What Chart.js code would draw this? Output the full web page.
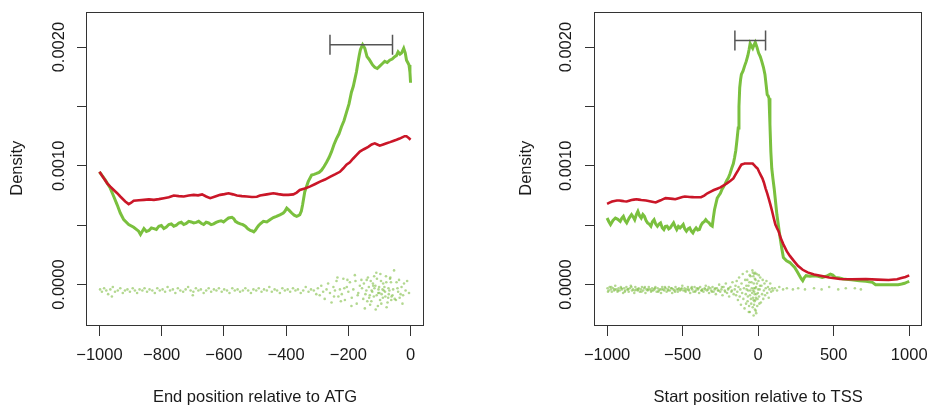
<!DOCTYPE html>
<html><head><meta charset="utf-8">
<script src="https://cdn.jsdelivr.net/npm/chart.js@4.4.1/dist/chart.umd.min.js"></script>
<style>
html,body{margin:0;padding:0;background:#fff;}
#wrap{position:relative;width:938px;height:408px;overflow:hidden;}
canvas{position:absolute;top:0;}
</style></head><body>
<div id="wrap"><canvas id="c1" width="469" height="408" style="left:0"></canvas><canvas id="c2" width="469" height="408" style="left:469px"></canvas></div>
<script>
// ---- tick values / labels ----
const yTickValues = [0, 0.0005, 0.001, 0.0015, 0.002];
const yTickLabels = ['0.0000', '', '0.0010', '', '0.0020'];
const atgTickValues = [-1000, -800, -600, -400, -200, 0];
const atgTickLabels = ['\u22121000', '\u2212800', '\u2212600', '\u2212400', '\u2212200', '0'];
const tssTickValues = [-1000, -500, 0, 500, 1000];
const tssTickLabels = ['\u22121000', '\u2212500', '0', '500', '1000'];

// ---- left panel: end position relative to ATG ----
const atgGreen = [[-1000,0.00095],[-981,0.00088],[-965,0.000811],[-954,0.000742],[-943,0.000672],[-933,0.000603],[-922,0.000547],[-906,0.000506],[-890,0.000483],[-874,0.00045],[-868,0.000422],[-857,0.000472],[-849,0.000447],[-841,0.000456],[-833,0.000478],[-825,0.000472],[-817,0.000465],[-809,0.000492],[-801,0.000498],[-793,0.000472],[-785,0.000485],[-777,0.000506],[-769,0.000512],[-761,0.000492],[-753,0.0005],[-745,0.000519],[-737,0.000525],[-729,0.000506],[-721,0.000515],[-713,0.000533],[-705,0.000528],[-697,0.000519],[-689,0.000524],[-681,0.000533],[-673,0.000517],[-665,0.000506],[-657,0.000525],[-649,0.000519],[-641,0.000505],[-633,0.000512],[-625,0.000524],[-617,0.000533],[-609,0.000538],[-601,0.000528],[-593,0.000545],[-585,0.000561],[-574,0.000567],[-568,0.000555],[-563,0.000533],[-555,0.00052],[-547,0.000512],[-539,0.000505],[-531,0.000492],[-523,0.00047],[-515,0.000456],[-509,0.000452],[-504,0.000444],[-499,0.000458],[-494,0.000478],[-489,0.000495],[-483,0.000512],[-473,0.000533],[-462,0.000528],[-452,0.000547],[-441,0.000565],[-431,0.000575],[-420,0.000588],[-409,0.000603],[-404,0.000618],[-398,0.000644],[-390,0.000625],[-382,0.000603],[-374,0.000585],[-366,0.000575],[-361,0.00058],[-356,0.000589],[-351,0.00062],[-347,0.000672],[-340,0.000783],[-329,0.000867],[-318,0.000922],[-310,0.000928],[-302,0.000936],[-294,0.000945],[-286,0.000964],[-278,0.000995],[-270,0.00103],[-262,0.00107],[-254,0.00112],[-246,0.00118],[-238,0.00123],[-230,0.00127],[-222,0.00133],[-214,0.00138],[-206,0.00145],[-198,0.00152],[-190,0.00162],[-184,0.00167],[-179,0.00173],[-174,0.00179],[-169,0.00187],[-165,0.00193],[-161,0.00198],[-154,0.00202],[-147,0.00199],[-140,0.00192],[-134,0.0019],[-129,0.00188],[-122,0.00185],[-115,0.00183],[-107,0.00182],[-99,0.00184],[-91,0.00186],[-83,0.00188],[-75,0.00187],[-67,0.00189],[-59,0.0019],[-51,0.00192],[-45,0.00193],[-40,0.00196],[-34,0.00194],[-29,0.00195],[-22,0.00199],[-17,0.00195],[-13,0.00189],[-9,0.00187],[-5,0.00185],[-2,0.00179],[0,0.0017]];
const atgRed = [[-1000,0.00095],[-987,0.0009],[-975,0.000853],[-965,0.000825],[-954,0.000797],[-943,0.00077],[-933,0.000742],[-917,0.0007],[-906,0.000678],[-898,0.00069],[-890,0.000706],[-873,0.00071],[-857,0.000714],[-841,0.000718],[-825,0.000714],[-809,0.00072],[-793,0.000728],[-777,0.000735],[-761,0.00075],[-745,0.000745],[-729,0.000742],[-713,0.00075],[-697,0.000756],[-683,0.000752],[-670,0.00076],[-657,0.000742],[-644,0.000728],[-628,0.000742],[-612,0.000756],[-598,0.000762],[-585,0.000769],[-571,0.00076],[-558,0.00075],[-542,0.000745],[-526,0.000742],[-510,0.000738],[-494,0.00074],[-484,0.00075],[-462,0.00076],[-441,0.000769],[-425,0.000762],[-409,0.000756],[-393,0.000756],[-377,0.00076],[-366,0.000775],[-356,0.000797],[-340,0.00081],[-324,0.000825],[-308,0.000845],[-291,0.000867],[-275,0.000885],[-259,0.000908],[-243,0.000928],[-227,0.00095],[-216,0.00098],[-206,0.00101],[-195,0.00103],[-185,0.00106],[-174,0.00109],[-163,0.00112],[-150,0.00114],[-136,0.00116],[-125,0.00118],[-115,0.00119],[-107,0.00118],[-99,0.00117],[-88,0.00118],[-77,0.00119],[-66,0.0012],[-56,0.00121],[-45,0.00122],[-35,0.00123],[-27,0.00124],[-19,0.00125],[-13,0.00125],[-8,0.00124],[-4,0.00123],[0,0.00122]];
const atgRug = [[-998,-0.00004],[-992,-0.00006],[-985,-0.00003],[-978,-0.00005],[-972,-0.00008],[-965,-0.00004],[-960,-0.0001],[-957,-0.00002],[-950,-0.00006],[-941,-0.00005],[-933,-0.00003],[-925,-0.00007],[-918,-0.00005],[-910,-0.00004],[-902,-0.00006],[-893,-0.00003],[-886,-0.00005],[-879,-0.00007],[-871,-0.00004],[-862,-0.00005],[-855,-0.00003],[-847,-0.00006],[-839,-0.00004],[-830,-0.00005],[-822,-0.00007],[-814,-0.00003],[-806,-0.00005],[-797,-0.00004],[-789,-0.00006],[-781,-0.00002],[-773,-0.00005],[-764,-0.00004],[-756,-0.00007],[-748,-0.00003],[-740,-0.00005],[-731,-0.00006],[-723,-0.00004],[-715,-0.00002],[-707,-0.00005],[-700,-0.00009],[-698,-0.00006],[-690,-0.00003],[-682,-0.00005],[-674,-0.00004],[-665,-0.00007],[-657,-0.00005],[-649,-0.00003],[-641,-0.00006],[-632,-0.00004],[-624,-0.00005],[-616,-0.00003],[-607,-0.00006],[-599,-0.00004],[-590,-0.00005],[-582,-0.00007],[-573,-0.00003],[-565,-0.00005],[-556,-0.00004],[-548,-0.00006],[-539,-0.00005],[-531,-0.00003],[-522,-0.00005],[-513,-0.00007],[-505,-0.00004],[-496,-0.00005],[-488,-0.00003],[-479,-0.00006],[-471,-0.00004],[-462,-0.00005],[-454,-0.00002],[-446,-0.00006],[-437,-0.00004],[-429,-0.00005],[-420,-0.00007],[-412,-0.00003],[-404,-0.00005],[-395,-0.00004],[-387,-0.00006],[-378,-0.00003],[-370,-0.00005],[-362,-0.00004],[-353,-0.00007],[-345,-0.00005],[-337,-0.00002],[-328,-0.00006],[-320,-0.00004],[-311,-0.00005],[-303,-0.00008],
[-298,-0.00003],[-292,-0.00009],[-287,-0.00001],[-281,-0.00006],[-276,-0.00012],[-270,-0.00004],[-265,0.00001],[-259,-0.00007],[-254,-0.00015],[-248,-0.00002],[-246,-0.0001],[-243,-0.00005],[-238,0.00003],[-235,0.00006],[-232,-0.0001],[-227,-0.00004],[-224,-0.00014],[-221,-0.00008],[-216,0.00005],[-213,-0.00003],[-211,-0.00013],[-205,-0.00002],[-203,0.00004],[-200,-0.00006],[-195,0.00002],[-190,-0.00018],[-189,-0.00011],[-184,-0.00004],[-179,0.00008],[-177,0.00003],[-173,-0.00016],[-170,-0.00009],[-168,-0.00007],[-163,-0.00001],[-158,0.00004],[-156,-0.00003],[-152,-0.00012],[-150,0.00001],[-147,-0.0002],[-145,-0.00008],[-142,-0.00005],[-141,0.00004],[-139,-0.00014],[-137,0.00006],[-134,-0.00002],[-133,-0.00011],[-131,-0.00009],[-130,-0.00017],[-128,0.00003],[-126,-0.00014],[-125,-0.00005],[-123,-0.00006],[-121,0.00001],[-120,-0.00001],[-118,-0.0001],[-117,0.00007],[-116,-0.00003],[-113,-0.00001],[-112,-0.00021],[-110,0.0001],[-109,-0.00009],[-108,0.00005],[-105,-0.00018],[-104,-0.00007],[-103,-0.00004],[-101,-0.00002],[-100,-0.00007],[-98,-0.00013],[-97,0.00009],[-95,0.00003],[-94,-0.00016],[-93,-0.00008],[-90,-0.00004],[-89,-0.00011],[-88,0.00001],[-86,-0.00005],[-84,-0.00002],[-82,-0.00006],[-81,-0.0001],[-79,0.00007],[-78,0.00002],[-77,-0.00019],[-74,-0.00015],[-72,-0.00011],[-71,-0.00003],[-70,-0.00008],[-68,-0.00005],[-66,0.00005],[-65,0.00006],[-63,0.00002],[-62,-0.00013],[-61,-0.0001],[-58,-0.00009],[-56,-0.00004],[-53,0.00012],[-51,-0.00012],[-47,-0.00013],[-45,0.00002],[-42,-0.00003],[-40,-0.00006],[-37,0.00004],[-35,-0.00011],[-32,-0.00008],[-29,-0.00002],[-26,-0.00016],[-24,-0.00009],[-21,0.00001],[-16,-0.00005],[-11,0.00003],[-5,-0.00007]];
const atgBracket = [[-259, 0.00202], [-58, 0.00202]];

// ---- right panel: start position relative to TSS ----
const tssGreen = [[-1000,0.000561],[-988,0.00053],[-977,0.000506],[-961,0.00054],[-945,0.000561],[-929,0.00055],[-913,0.000533],[-902,0.00056],[-892,0.000575],[-881,0.00054],[-870,0.00052],[-854,0.00056],[-838,0.000589],[-827,0.00057],[-817,0.000547],[-806,0.00059],[-796,0.000617],[-785,0.00058],[-774,0.000561],[-763,0.00059],[-753,0.000575],[-742,0.00054],[-732,0.00052],[-721,0.00051],[-710,0.000492],[-700,0.00053],[-689,0.000547],[-678,0.00051],[-667,0.000492],[-656,0.00051],[-646,0.00052],[-635,0.00048],[-624,0.000464],[-614,0.00049],[-603,0.000492],[-592,0.00047],[-582,0.000478],[-571,0.0005],[-560,0.00052],[-550,0.00049],[-539,0.000464],[-528,0.00049],[-517,0.000478],[-507,0.00049],[-496,0.000506],[-486,0.00047],[-475,0.00045],[-464,0.00047],[-453,0.000478],[-442,0.00045],[-432,0.000436],[-422,0.00046],[-411,0.000478],[-400,0.00046],[-389,0.000464],[-378,0.0005],[-368,0.00052],[-357,0.00053],[-347,0.000547],[-336,0.00053],[-325,0.00052],[-314,0.0005],[-304,0.000492],[-297,0.00056],[-289,0.000631],[-280,0.00068],[-271,0.000728],[-260,0.00075],[-250,0.00077],[-240,0.0008],[-229,0.000825],[-218,0.00085],[-207,0.00088],[-197,0.0009],[-186,0.000936],[-175,0.00098],[-164,0.00102],[-156,0.00107],[-148,0.00113],[-140,0.00122],[-132,0.00132],[-127,0.0015],[-122,0.00166],[-116,0.00173],[-111,0.00177],[-100,0.0018],[-90,0.00184],[-79,0.00188],[-68,0.00193],[-60,0.00198],[-53,0.00203],[-45,0.00201],[-36,0.00199],[-27,0.00202],[-19,0.00204],[-8,0.002],[3,0.00195],[14,0.00192],[24,0.00188],[35,0.00183],[45,0.00177],[53,0.00168],[60,0.0016],[66,0.00159],[72,0.00157],[78,0.00135],[84,0.00112],[90,0.00098],[98,0.00089],[106,0.00081],[115,0.0007],[124,0.00059],[135,0.00049],[146,0.00039],[157,0.0003],[167,0.000228],[188,0.0002],[210,0.000186],[226,0.000165],[242,0.000144],[258,0.00011],[274,0.000075],[285,0.00005],[295,0.000033],[306,0.00006],[317,0.000075],[343,0.00007],[370,0.000075],[397,0.00007],[424,0.000061],[451,0.00007],[478,0.000089],[494,0.00008],[510,0.000061],[537,0.000055],[563,0.000047],[617,0.00004],[670,0.000033],[713,0.000028],[756,0.000019],[777,0],[850,0],[927,0],[950,0.000005],[969,0.000011],[985,0.00002],[1000,0.000028]];
const tssRed = [[-1000,0.00068],[-984,0.00069],[-967,0.0007],[-951,0.000705],[-935,0.000708],[-919,0.000708],[-903,0.000705],[-886,0.000702],[-870,0.0007],[-854,0.000706],[-838,0.000712],[-822,0.000716],[-806,0.000719],[-790,0.000716],[-774,0.000712],[-758,0.00071],[-742,0.000708],[-726,0.000704],[-710,0.0007],[-694,0.000696],[-678,0.000692],[-661,0.000702],[-645,0.00071],[-629,0.00072],[-613,0.000728],[-597,0.000726],[-581,0.000724],[-565,0.000722],[-549,0.000719],[-533,0.000726],[-517,0.000732],[-501,0.000737],[-485,0.000742],[-469,0.00074],[-453,0.000738],[-437,0.000737],[-421,0.000736],[-399,0.000736],[-378,0.000736],[-357,0.00075],[-336,0.000769],[-314,0.000783],[-293,0.000797],[-271,0.000808],[-250,0.000819],[-228,0.000835],[-207,0.000853],[-185,0.000872],[-164,0.000894],[-148,0.00093],[-132,0.000964],[-121,0.00099],[-111,0.00101],[-100,0.001015],[-90,0.00102],[-79,0.00102],[-68,0.00102],[-57,0.00102],[-47,0.00102],[-36,0.00102],[-25,0.001005],[-15,0.00099],[-4,0.000978],[6,0.00095],[17,0.000922],[28,0.000895],[38,0.00086],[49,0.000811],[60,0.000768],[71,0.00072],[82,0.00067],[92,0.00062],[103,0.000561],[114,0.000505],[125,0.000475],[135,0.00045],[150,0.00039],[167,0.000339],[190,0.00028],[210,0.000242],[236,0.0002],[263,0.000158],[295,0.000125],[327,0.000103],[370,0.000085],[413,0.000075],[470,0.00006],[542,0.000047],[620,0.000045],[713,0.000047],[790,0.000042],[863,0.000039],[920,0.000045],[948,0.000056],[975,0.000065],[1000,0.000078]];
const tssRug = [[-997,-0.00003],[-994,-0.00006],[-990,-0.00005],[-983,-0.00002],[-976,-0.00004],[-972,-0.00002],[-969,-0.00006],[-961,-0.00003],[-954,-0.00005],[-950,-0.00004],[-946,-0.00001],[-939,-0.00004],[-931,-0.00006],[-928,-0.00005],[-924,-0.00003],[-917,-0.00005],[-909,-0.00002],[-905,-0.00003],[-902,-0.00004],[-894,-0.00007],[-887,-0.00003],[-883,-0.00006],[-880,-0.00005],[-872,-0.00002],[-865,-0.00004],[-861,-0.00004],[-857,-0.00006],[-850,-0.00003],[-843,-0.00001],[-839,-0.00002],[-835,-0.00005],[-828,-0.00004],[-820,-0.00007],[-817,-0.00005],[-813,-0.00002],[-806,-0.00004],[-798,-0.00005],[-794,-0.00004],[-791,-0.00003],[-783,-0.00006],[-776,-0.00004],[-772,-0.00006],[-769,-0.00002],[-761,-0.00005],[-754,-0.00003],[-750,-0.00002],[-746,-0.00007],[-739,-0.00004],[-732,-0.00005],[-728,-0.00004],[-724,-0.00002],[-717,-0.00004],[-709,-0.00006],[-706,-0.00005],[-702,-0.00003],[-695,-0.00005],[-687,-0.00004],[-684,-0.00003],[-680,-0.00002],[-672,-0.00006],[-665,-0.00003],[-661,-0.00006],[-658,-0.00005],[-650,-0.00004],[-643,-0.00007],[-639,-0.00004],[-635,-0.00002],[-628,-0.00004],[-621,-0.00005],[-617,-0.00002],[-613,-0.00003],[-606,-0.00006],[-598,-0.00004],[-595,-0.00005],[-591,-0.00002],[-584,-0.00005],[-576,-0.00003],[-572,-0.00003],[-569,-0.00007],[-561,-0.00004],[-554,-0.00005],[-550,-0.00006],[-547,-0.00002],[-539,-0.00004],[-532,-0.00006],[-528,-0.00004],[-524,-0.00003],[-517,-0.00005],[-510,-0.00004],[-506,-0.00003],[-502,-0.00001],[-495,-0.00005],[-487,-0.00003],[-484,-0.00005],[-480,-0.00006],[-473,-0.00004],[-465,-0.00002],[-461,-0.00004],[-458,-0.00005],[-450,-0.00007],[-443,-0.00003],[-439,-0.00002],[-436,-0.00004],[-428,-0.00006],[-421,-0.00002],[-417,-0.00006],[-413,-0.00005],[-406,-0.00003],[-399,-0.00004],[-395,-0.00003],[-391,-0.00007],[-384,-0.00002],[-376,-0.00005],[-373,-0.00005],[-369,-0.00004],[-362,-0.00006],[-354,-0.00003],[-350,-0.00004],[-347,-0.00001],[-339,-0.00005],[-332,-0.00004],[-328,-0.00002],[-325,-0.00007],[-317,-0.00003],[-310,-0.00005],[-306,-0.00006],[-302,-0.00002],[-295,-0.00006],[-288,-0.00004],[-284,-0.00003],[-280,-0.00008],[-273,-0.00003],[-266,-0.00005],[-262,-0.00005],[-258,0],[-251,-0.00006],[-243,-0.00004],[-240,-0.00002],[-236,-0.00009],[-229,-0.00002],[-221,-0.00005],[-218,-0.00006],[-214,0.00001],[-206,-0.00007],[-199,-0.00004],[-196,-0.00003],[-192,-0.0001],[-184,-0.00002],[-177,-0.00006],[-174,-0.00005],[-170,0.00002],[-162,-0.00008],[-155,-0.00004],
[-150,-0.00001],[-146,-0.00009],[-142,0.00003],[-138,-0.00006],[-134,-0.00013],[-130,-0.00002],[-126,0.00006],[-122,-0.0001],[-118,-0.00004],[-114,-0.00017],[-110,0.00001],[-106,-0.00007],[-102,0.00009],[-98,-0.00012],[-94,-0.00003],[-90,-0.0002],[-86,0.00004],[-82,-0.00008],[-80,-0.00016],[-78,-0.00001],[-76,-0.00004],[-74,0.00011],[-72,0.00004],[-70,-0.00014],[-68,-0.0001],[-66,-0.00005],[-64,-0.00001],[-62,-0.00023],[-60,-0.00018],[-58,0.00002],[-56,0.00008],[-55,-0.00023],[-54,-0.00009],[-52,-0.00005],[-50,0.00007],[-48,-0.00012],[-46,-0.00016],[-44,0.00002],[-42,-0.00003],[-40,-0.00007],[-38,0.00012],[-36,-0.00019],[-35,0.0001],[-34,-0.00011],[-33,-0.00005],[-32,0.00007],[-31,-0.00013],[-30,-0.00026],[-29,0.00001],[-28,-0.00003],[-27,-0.00017],[-26,-0.00006],[-25,0.00009],[-24,-0.00014],[-23,-0.00008],[-22,0.00005],[-21,-0.00021],[-20,0.0001],[-19,-0.00003],[-18,-0.00013],[-17,0.00004],[-16,-0.00022],[-15,-0.00011],[-14,-0.00002],[-13,-0.00024],[-12,-0.00008],[-10,0.00009],[-8,0.00001],[-6,-0.00018],[-4,-0.00012],[-2,-0.00007],[0,-0.00004],[2,0.00003],[4,0.00008],[6,-0.0001],[8,-0.00016],[10,-0.00004],[12,-0.00001],[14,0.00006],[18,-0.00015],[22,-0.00001],[26,-0.00008],[30,0.00004],[34,-0.00012],[38,-0.00005],[42,0.00001],[46,-0.00009],[50,-0.00003],[55,0.00003],[60,-0.00007],[65,-0.00002],[70,-0.00011],[75,-0.00004],[80,0.00001],[86,-0.00006],[92,-0.00003],[98,-0.00005],
[110,-0.00003],[125,-0.00005],[140,-0.00002],[165,-0.00004],[190,-0.00003],[230,-0.00004],[265,-0.00003],[310,-0.00004],[370,-0.00003],[420,-0.00004],[470,-0.00002],[530,-0.00004],[580,-0.00003],[640,-0.00003],[680,-0.00004]];
const tssBracket = [[-154, 0.002055], [49, 0.002055]];

// ---- styling ----
const FONT = {family: "'Liberation Sans', Arial, Helvetica, sans-serif", size: 16.5};
const TEXT = '#1a1a1a';
const AXIS = '#333333';
const GREEN = 'rgb(122,192,62)';
const RED = 'rgb(202,22,40)';
const RUG = 'rgba(128,190,70,0.6)';
const BRACKET = '#555555';

const toXY = arr => arr.map(p => ({x: p[0], y: p[1]}));

const boxPlugin = {
  id: 'rbox',
  afterDatasetsDraw(chart) {
    const {ctx, chartArea: a} = chart;
    ctx.save();
    ctx.strokeStyle = AXIS;
    ctx.lineWidth = 1;
    ctx.strokeRect(Math.round(a.left) - 0.5, Math.round(a.top) + 0.5,
                   Math.round(a.right - a.left) + 1, Math.round(a.bottom - a.top) - 1);
    ctx.restore();
  }
};

function makeChart(id, o) {
  return new Chart(document.getElementById(id), {
    type: 'line',
    data: {datasets: [
      {data: toXY(o.bracket), borderColor: BRACKET, borderWidth: 1.5, pointStyle: 'line', pointRotation: 90,
       pointRadius: 10, pointBorderColor: BRACKET, pointBorderWidth: 1.5, tension: 0},
      {data: toXY(o.red), borderColor: RED, borderWidth: 2.6, pointRadius: 0, tension: 0},
      {data: toXY(o.green), borderColor: GREEN, borderWidth: 3, pointRadius: 0, tension: 0},
      {data: toXY(o.rug), showLine: false, pointRadius: 1.3, pointBackgroundColor: RUG, pointBorderWidth: 0}
    ]},
    options: {
      responsive: false, animation: false, devicePixelRatio: 1, events: [],
      layout: {padding: {left: 0, right: o.padRight, top: 8, bottom: 0}},
      plugins: {legend: {display: false}, tooltip: {enabled: false}},
      scales: {
        x: {
          type: 'linear', min: o.xmin, max: o.xmax,
          afterFit(s) { s.height = 83; },
          afterBuildTicks(s) { s.ticks = o.xTicks.map(v => ({value: v})); },
          ticks: {callback: v => o.xLabels[o.xTicks.indexOf(v)], autoSkip: false, maxRotation: 0,
                  padding: 10, font: FONT, color: TEXT},
          grid: {drawOnChartArea: false, drawTicks: true, tickLength: 11, tickColor: AXIS, lineWidth: 1},
          border: {display: false},
          title: {display: true, text: o.xTitle, font: FONT, color: TEXT, padding: {top: 0, bottom: 1}}
        },
        y: {
          type: 'linear', min: -0.00034, max: 0.0023,
          afterFit(s) { s.width = o.yWidth; },
          afterBuildTicks(s) { s.ticks = yTickValues.map(v => ({value: v})); },
          ticks: {callback: v => yTickLabels[yTickValues.indexOf(v)], autoSkip: false, minRotation: 90, maxRotation: 90,
                  crossAlign: 'center', padding: o.yPad, font: FONT, color: TEXT},
          grid: {drawOnChartArea: false, drawTicks: true, tickLength: 10, tickColor: AXIS, lineWidth: 1},
          border: {display: false},
          title: {display: true, text: 'Density', font: FONT, color: TEXT, padding: {top: o.yTitlePad, bottom: 0}}
        }
      }
    },
    plugins: [boxPlugin]
  });
}

makeChart('c1', {green: atgGreen, red: atgRed, rug: atgRug, bracket: atgBracket,
  xmin: -1040, xmax: 40, xTicks: atgTickValues, xLabels: atgTickLabels,
  xTitle: 'End position relative to ATG', padRight: 46, yWidth: 87, yPad: -7.4, yTitlePad: 8});
makeChart('c2', {green: tssGreen, red: tssRed, rug: tssRug, bracket: tssBracket,
  xmin: -1080, xmax: 1080, xTicks: tssTickValues, xLabels: tssTickLabels,
  xTitle: 'Start position relative to TSS', padRight: 6, yWidth: 126, yPad: -6.7, yTitlePad: 47.6});
</script>
</body></html>
